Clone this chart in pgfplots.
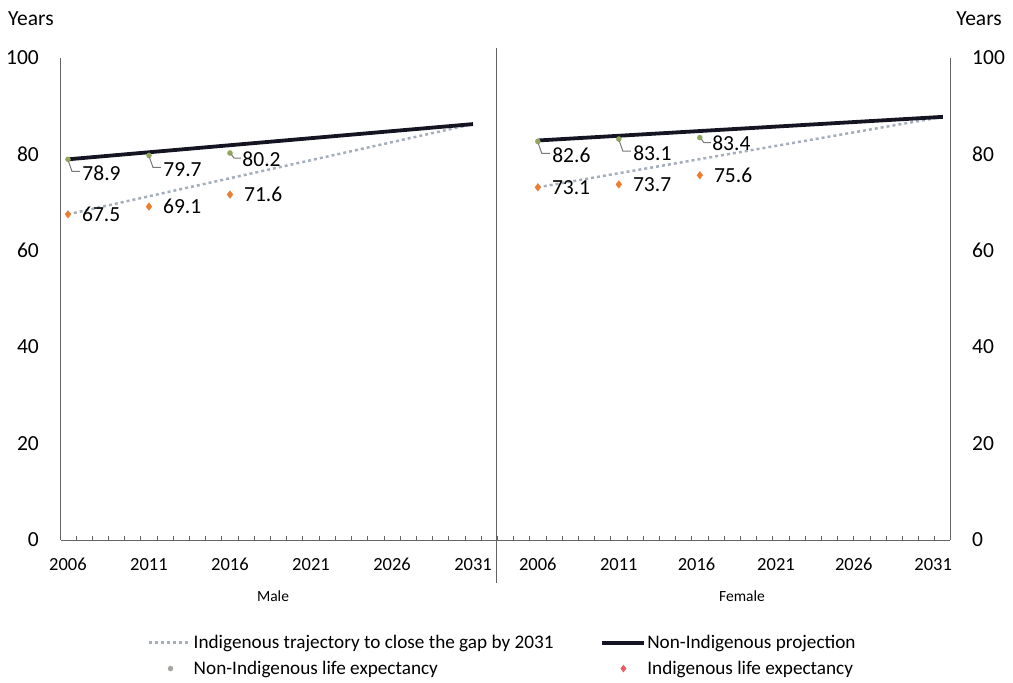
\documentclass[border=0pt]{standalone}
\usepackage{pgfplots}
\pgfplotsset{compat=1.18}
\usepackage{fontspec}
\setmainfont{Carlito}
\definecolor{leadgray}{RGB}{120,120,120}
\definecolor{nonind}{RGB}{145,165,95}
\definecolor{indor}{RGB}{237,125,49}
\definecolor{projblack}{RGB}{20,20,35}
\definecolor{trajgray}{RGB}{165,175,188}
\definecolor{axgray}{RGB}{100,100,100}
\pgfdeclareplotmark{leadlong}{%
  \pgfpathcircle{\pgfpointorigin}{\pgfplotmarksize}\pgfusepathqfill
  \pgfsetstrokecolor{leadgray}\pgfsetlinewidth{1pt}%
  \pgfpathmoveto{\pgfpoint{0.5pt}{-2pt}}\pgfpathlineto{\pgfpoint{4pt}{-12pt}}\pgfpathlineto{\pgfpoint{12pt}{-12pt}}\pgfusepathqstroke}
\pgfdeclareplotmark{leadshort}{%
  \pgfpathcircle{\pgfpointorigin}{\pgfplotmarksize}\pgfusepathqfill
  \pgfsetstrokecolor{leadgray}\pgfsetlinewidth{1pt}%
  \pgfpathmoveto{\pgfpoint{1.5pt}{-1.5pt}}\pgfpathlineto{\pgfpoint{4pt}{-5pt}}\pgfpathlineto{\pgfpoint{11pt}{-5pt}}\pgfusepathqstroke}
\begin{document}
\begin{tikzpicture}
\path[use as bounding box] (0pt,0pt) rectangle (1013pt,-683pt);
\begin{axis}[
  at={(61pt,-540pt)}, anchor=south west, scale only axis,
  width=889pt, height=482.5pt,
  xmin=-0.43, xmax=54.44, ymin=0, ymax=100,
  clip=false,
  axis x line*=bottom, axis y line*=left,
  axis line style={-, axgray, line width=1pt},
  ytick={0,20,...,100}, ytick style={draw=none},
  xtick={0,5,10,15,20,25,29,34,38.8,43.7,48.5,53.4},
  xticklabels={2006,2011,2016,2021,2026,2031,2006,2011,2016,2021,2026,2031},
  minor xtick={0.5,1.5,...,53.5},
  tick align=inside, major tick length=0pt, minor tick length=4pt,
  minor tick style={axgray, line width=0.8pt},
  /pgf/number format/assume math mode=true,
  yticklabel style={font=\fontsize{21.5}{24}\selectfont, anchor=east, inner sep=0pt, xshift=-22pt},
  xticklabel style={font=\fontsize{18.5}{21}\selectfont, anchor=north, inner sep=0pt, yshift=-18pt},
  legend columns=2,
  legend cell align=left,
  legend image code/.code={\draw[mark repeat=2,mark phase=2,#1] plot coordinates {(0pt,0pt) (21pt,0pt) (42pt,0pt)};},
  legend style={at={(0.0979,-0.195)}, anchor=north west, draw=none, fill=none, inner sep=0pt,
    font=\fontsize{19.2}{22}\selectfont, row sep=9pt, nodes={inner sep=1pt},
    /tikz/column 2/.style={column sep=46pt}},
]
\addlegendimage{trajgray, line width=2.5pt, dash pattern=on 3pt off 3pt}
\addlegendentry{Indigenous trajectory to close the gap by 2031}
\addlegendimage{projblack, line width=3.8pt}
\addlegendentry{Non-Indigenous projection}
\addlegendimage{only marks, mark=*, mark size=2.5pt, color={rgb,255:red,165;green,165;blue,160}}
\addlegendentry{Non-Indigenous life expectancy}
\addlegendimage{only marks, mark=diamond*, mark size=3.5pt, color={rgb,255:red,235;green,90;blue,100}}
\addlegendentry{Indigenous life expectancy}

% divider
\addplot[axgray, line width=1pt, forget plot] coordinates {(26.42,102) (26.42,-8.9)};

% trajectories
\addplot[trajgray, line width=2.5pt, dash pattern=on 3pt off 3pt, forget plot] coordinates {(0,67.5) (25,86.2)};
\addplot[trajgray, line width=2.5pt, dash pattern=on 3pt off 3pt, forget plot] coordinates {(29,73.1) (54,87.7)};
% projections
\addplot[projblack, line width=3.8pt, forget plot] coordinates {(0,78.9) (25,86.2)};
\addplot[projblack, line width=3.8pt, forget plot] coordinates {(29,82.8) (54,87.7)};

% non-Indigenous life expectancy
\addplot[only marks, mark=leadlong, nonind, mark size=2.8pt, forget plot,
  nodes near coords={\pgfmathprintnumber[fixed,fixed zerofill,precision=1,assume math mode=true]{\pgfplotspointmeta}},
  every node near coord/.style={anchor=west, xshift=13pt, yshift=-14pt, text=black, inner sep=1pt, font=\fontsize{21.5}{24}\selectfont}]
  coordinates {(0,78.9) (5,79.7) (29,82.6) (34,83.1)};
\addplot[only marks, mark=leadshort, nonind, mark size=2.8pt, forget plot,
  nodes near coords={\pgfmathprintnumber[fixed,fixed zerofill,precision=1,assume math mode=true]{\pgfplotspointmeta}},
  every node near coord/.style={anchor=west, xshift=11pt, yshift=-6pt, text=black, inner sep=1pt, font=\fontsize{21.5}{24}\selectfont}]
  coordinates {(10,80.2) (39,83.4)};
% Indigenous life expectancy
\addplot[only marks, mark=diamond*, indor, mark size=3.8pt, forget plot,
  nodes near coords={\pgfmathprintnumber[fixed,fixed zerofill,precision=1,assume math mode=true]{\pgfplotspointmeta}},
  every node near coord/.style={anchor=west, xshift=13pt, text=black, inner sep=1pt, font=\fontsize{21.5}{24}\selectfont}]
  coordinates {(0,67.5) (5,69.1) (10,71.6) (29,73.1) (34,73.7) (39,75.6)};
\end{axis}
\begin{axis}[
  at={(61pt,-540pt)}, anchor=south west, scale only axis,
  width=889pt, height=482.5pt,
  xmin=-0.43, xmax=54.44, ymin=0, ymax=100,
  axis x line=none, axis y line*=right,
  axis line style={-, axgray, line width=1pt},
  ytick={0,20,...,100}, ytick style={draw=none},
  /pgf/number format/assume math mode=true,
  yticklabel style={font=\fontsize{21.5}{24}\selectfont, anchor=west, inner sep=0pt, xshift=22pt},
]
\addplot[draw=none] coordinates {(0,0)};
\end{axis}
\node[anchor=base west, inner sep=0pt, font=\fontsize{21.5}{24}\selectfont] at (8pt,-25pt) {Years};
\node[anchor=base east, inner sep=0pt, font=\fontsize{21.5}{24}\selectfont] at (1002pt,-25pt) {Years};
\node[inner sep=0pt, font=\fontsize{15.5}{18}\selectfont] at (273pt,-596pt) {Male};
\node[inner sep=0pt, font=\fontsize{15.5}{18}\selectfont] at (742pt,-596pt) {Female};
\end{tikzpicture}
\end{document}
